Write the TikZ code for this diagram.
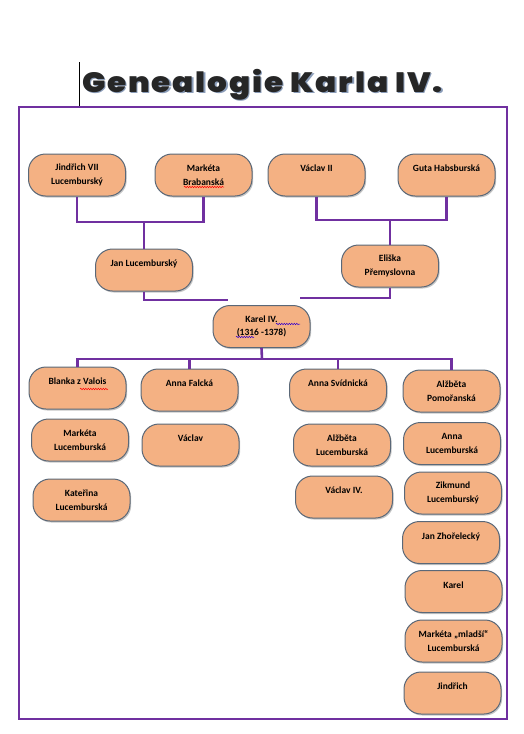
\documentclass[tikz,border=0pt]{standalone}
\usepackage{fontspec}
\setmainfont{Carlito}
\newfontfamily\titlefont[LetterSpace=6]{Poppins Black}
\usetikzlibrary{positioning,calc,shadows,decorations.pathmorphing}
\definecolor{peach}{HTML}{F4B183}
\definecolor{rim}{HTML}{5A6878}
\definecolor{famline}{HTML}{7030A0}
\definecolor{titleshade}{HTML}{8A9CB8}

\begin{document}
\begin{tikzpicture}[x=1pt,y=-1pt,
person/.style={draw=rim,line width=1pt,fill=peach,rounded corners=17pt,minimum width=97pt,minimum height=42pt,align=center,font=\bfseries\fontsize{9.5}{13.5}\selectfont,drop shadow={shadow xshift=1.2pt,shadow yshift=-1.5pt,fill=black!45}},
family/.style={draw=famline,line width=2.6pt},
headline/.style={anchor=base,xscale=1.11,font=\titlefont\fontsize{28}{32}\selectfont},
squiggle/.style={decorate,decoration={snake,amplitude=0.7pt,segment length=2.5pt},line width=0.5pt}]
\useasboundingbox (0,0) rectangle (523,734);

% title
\node[headline,text=titleshade] (titleb) at (264,93.5) {Genealogie Karla IV.};
\node[headline,text=black!85] (title) at (262.5,92) {Genealogie Karla IV.};
\draw[line width=0.7pt] (79,62) -- (79,106);
\draw[draw=famline,line width=2pt] (19,107) rectangle (507,719);

% grandparents
\node[person] (jindrich) at (77,175) {Jindřich VII\\Lucemburský};
\node[person] (marketaB) at (203.5,175) {Markéta\\Brabanská};
\node[person] (vaclavII) at (316.5,175) {Václav II\\\mbox{}};
\node[person] (guta) at (446.5,175) {Guta Habsburská\\\mbox{}};

% parents
\node[person] (jan) at (144,270) {Jan Lucemburský\\\mbox{}};
\node[person] (eliska) at (390,266) {Eliška\\Přemyslovna};
\node[person] (karel) at (261.5,326.5) {Karel IV.\\(1316 -1378)};

% wives
\node[person] (blanka) at (77.5,388) {Blanka z Valois\\\mbox{}};
\node[person] (annaF) at (189.5,390) {Anna Falcká\\\mbox{}};
\node[person] (annaS) at (338,390) {Anna Svídnická\\\mbox{}};
\node[person] (alzbetaP) at (451.5,391) {Alžběta\\Pomořanská};

% children
\node[person] (marketaL) at (80,440) {Markéta\\Lucemburská};
\node[person] (katerina) at (81.5,500) {Kateřina\\Lucemburská};
\node[person] (vaclav) at (190.5,445) {Václav\\\mbox{}};
\node[person] (alzbetaL) at (342,445) {Alžběta\\Lucemburská};
\node[person] (vaclavIV) at (344,497) {Václav IV.\\\mbox{}};
\node[person] (annaL) at (452,443.5) {Anna\\Lucemburská};
\node[person] (zikmund) at (453,493) {Zikmund\\Lucemburský};
\node[person] (janZ) at (451,542.5) {Jan Zhořelecký\\\mbox{}};
\node[person] (karelS) at (453.5,591.5) {Karel\\\mbox{}};
\node[person] (marketaM) at (453.5,641) {Markéta „mladší“\\Lucemburská};
\node[person] (jindrichS) at (452.5,693) {Jindřich\\\mbox{}};

\coordinate (jm) at (144,222);
\coordinate (vm) at (390,220);
\coordinate (kl) at (228,300);
\coordinate (kr) at (300,298);
\coordinate (km) at (262,359);

\draw[family] (jindrich.south) |- (jm) -| (marketaB.south);
\draw[family] (jm) -- (jan.north);
\draw[family] (vaclavII.south) |- (vm) -| (guta.south);
\draw[family] (vm) -- (eliska.north);
\draw[family] (jan.south) |- (kl);
\draw[family] (eliska.south) |- (kr);
\draw[family] (karel.south) -- (km);
\draw[family] (blanka.north) |- (km) -| (alzbetaP.north);
\draw[family] (annaF.north) -- (annaF.north |- km);
\draw[family] (annaS.north) -- (annaS.north |- km);

% spelling marks
\draw[squiggle,red] (184,187) -- (224,187);
\draw[squiggle,red] (80,389) -- (108,389);
\draw[squiggle,blue!60!violet] (276,324) -- (300,324);
\draw[squiggle,blue!60!violet] (236,337) -- (254,337);
\end{tikzpicture}
\end{document}
